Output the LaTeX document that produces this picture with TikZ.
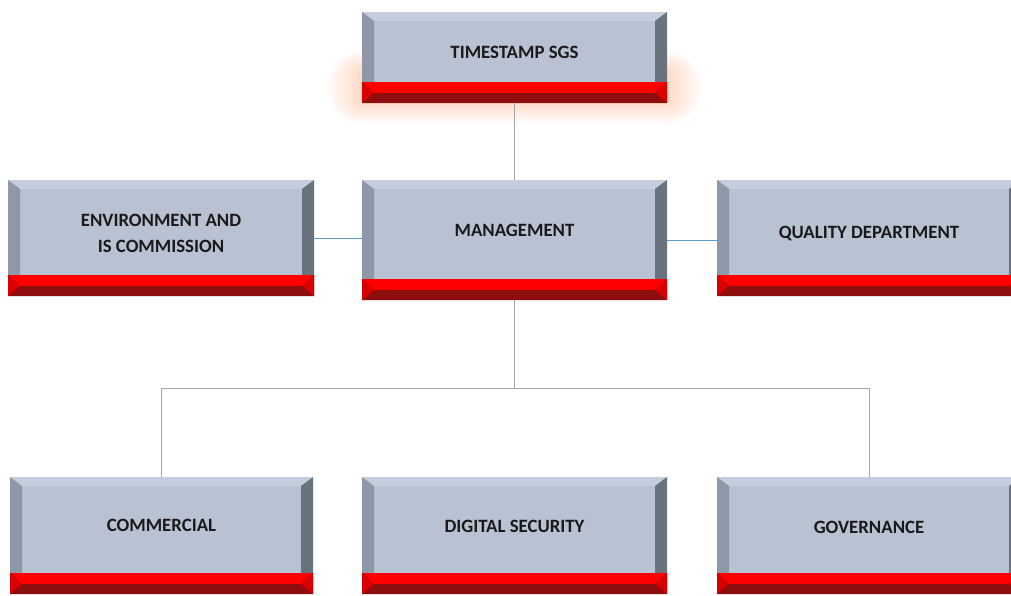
\documentclass[tikz,border=0pt]{standalone}
\usepackage{fontspec}
\setmainfont{Carlito}
\definecolor{face}{HTML}{B8C2D3}
\definecolor{topbev}{HTML}{C3CDDC}
\definecolor{leftbev}{HTML}{8E98A7}
\definecolor{rightbev}{HTML}{6A7280}
\definecolor{redA}{HTML}{FF0000}
\definecolor{redB}{HTML}{8E0D0D}
\definecolor{redL}{HTML}{D80000}
\definecolor{glow}{HTML}{FF9A5A}
\definecolor{txt}{HTML}{1A1A1A}
\definecolor{treeline}{HTML}{A6A6A6}
\definecolor{blueline}{HTML}{5B9BD5}
\tikzset{
  boxframe/.style={draw=none, inner sep=0pt, anchor=north west},
  boxtext/.style={text=txt, align=center, font=\bfseries\fontsize{18.8}{26}\selectfont},
  treeconn/.style={draw=treeline, line width=1pt},
  blueconn/.style={draw=blueline, line width=1pt},
}
% name, x0, y0, x1, y1, text y, text
\newcommand\orgbox[7]{%
  \node[boxframe, minimum width={#4pt-#2pt}, minimum height={#5pt-#3pt}] (#1) at (#2,#3) {};
  \fill[face] (#2,#3) rectangle (#4,#5-21);
  \fill[topbev] (#2,#3) -- (#4,#3) -- (#4-12,#3+9) -- (#2+12,#3+9) -- cycle;
  \fill[leftbev] (#2,#3) -- (#2+12,#3+9) -- (#2+12,#5-21) -- (#2,#5-21) -- cycle;
  \fill[rightbev] (#4,#3) -- (#4-12,#3+9) -- (#4-12,#5-21) -- (#4,#5-21) -- cycle;
  \fill[redA] (#2,#5-21) rectangle (#4,#5);
  \fill[redB] (#2,#5-21) -- (#2+12,#5-10) -- (#4-12,#5-10) -- (#4,#5-21) -- (#4,#5) -- (#2,#5) -- cycle;
  \fill[redL] (#2,#5-21) -- (#2+12,#5-10) -- (#2,#5) -- cycle;
  \fill[redL] (#4,#5-21) -- (#4-12,#5-10) -- (#4,#5) -- cycle;
  \node[boxtext] (#1-label) at ({(#2+#4)/2},#6) {#7};
}
\begin{document}
\begin{tikzpicture}[x=1pt,y=-1pt]
\useasboundingbox[fill=white] (0,0) rectangle (1011,595);
% glow around the top box
\foreach \r in {34,31,...,4} {
  \fill[glow, opacity=0.03, rounded corners={\r pt}] (362-\r,72-\r*0.6) rectangle (667+\r,100+\r*0.7);
}
\orgbox{tsgs}{362}{12}{667}{103}{52}{TIMESTAMP SGS}
\orgbox{mgmt}{362}{180}{667}{300}{230}{MANAGEMENT}
\orgbox{env}{8}{180}{314}{296}{233}{ENVIRONMENT AND\\IS COMMISSION}
\orgbox{qual}{717}{180}{1021}{296}{234}{QUALITY DEPARTMENT}
\orgbox{comm}{10}{477}{313}{594}{525}{COMMERCIAL}
\orgbox{dsec}{362}{477}{667}{594}{526}{DIGITAL SECURITY}
\orgbox{gov}{717}{477}{1021}{594}{527}{GOVERNANCE}
% connectors
\draw[treeconn] (tsgs.south) -- (mgmt.north);
\draw[blueconn] (env.east) -- (env.east -| mgmt.west);
\draw[blueconn] (mgmt.east) -- (mgmt.east -| qual.west);
\path (mgmt.south) ++(0,88) coordinate (jn);
\draw[treeconn] (mgmt.south) -- (jn);
\draw[treeconn] (jn) -| (comm.north);
\draw[treeconn] (jn) -| (gov.north);
\end{tikzpicture}
\end{document}
